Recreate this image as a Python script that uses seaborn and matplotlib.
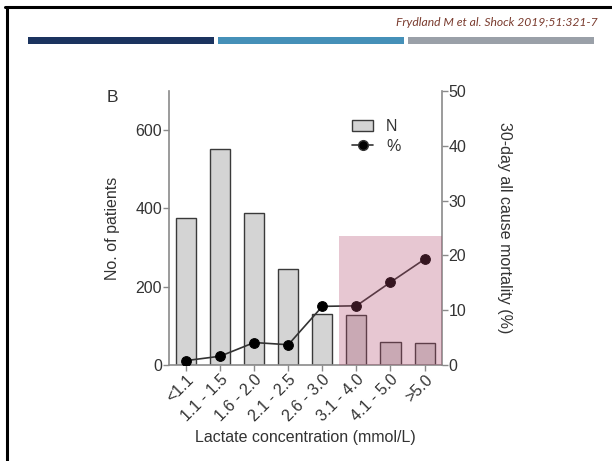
import matplotlib
matplotlib.use("Agg")
import matplotlib.pyplot as plt
import numpy as np
import pandas as pd
import seaborn as sns
from matplotlib.lines import Line2D
from matplotlib.patches import Patch, Rectangle

# data
lactate_groups = ["<1.1", "1.1 - 1.5", "1.6 - 2.0", "2.1 - 2.5",
                  "2.6 - 3.0", "3.1 - 4.0", "4.1 - 5.0", ">5.0"]
n_patients = [376, 553, 389, 246, 131, 129, 59, 57]
mortality_pct = [0.8, 1.6, 4.1, 3.7, 10.7, 10.8, 15.1, 19.3]
highlight_from = 4.5   # shaded region starts between 2.6-3.0 and 3.1-4.0
highlight_top = 23.5   # in % units

sns.set_theme(style="white")
plt.rcParams["font.family"] = ["Liberation Sans", "DejaVu Sans"]

text_col = "#333333"
axis_col = "#8a8a8a"

df = pd.DataFrame({"group": lactate_groups, "n": n_patients,
                   "pct": mortality_pct, "pos": np.arange(len(lactate_groups))})

fig = plt.figure(figsize=(6.12, 4.61), dpi=100)
fig.patch.set_facecolor("white")

# slide frame + header
fig.add_artist(Line2D([5 / 612, 1], [1 - 7 / 461, 1 - 7 / 461], color="black", lw=2.2))
fig.add_artist(Line2D([6.5 / 612, 6.5 / 612], [0, 1 - 7 / 461], color="black", lw=2.2))
for x0, x1, c in [(28, 214, "#1b335f"), (218, 404, "#4590b8"), (408, 594, "#9aa0a8")]:
    fig.add_artist(Rectangle((x0 / 612, 1 - 44 / 461), (x1 - x0) / 612, 7 / 461,
                             transform=fig.transFigure, color=c, lw=0))
fig.text(598 / 612, 1 - 22 / 461, "Frydland M et al. Shock 2019;51:321-7",
         ha="right", va="center", fontsize=8.7, style="italic",
         color="#7a3b2e", family=["Lato", "DejaVu Sans"])

ax = fig.add_axes([169 / 612, 1 - 365 / 461, (441.6 - 169) / 612, (365 - 91) / 461])
sns.barplot(data=df, x="group", y="n", ax=ax, color="#d4d4d4", saturation=1,
            width=0.59, edgecolor="#3a3a3a", linewidth=1.0)
ax.set_ylim(0, 700)
ax.set_xlim(-0.5, 7.5)
ax.set_yticks([0, 200, 400, 600])
ax.set_xlabel("Lactate concentration (mmol/L)", fontsize=11.5, color=text_col, labelpad=4)
ax.set_ylabel("No. of patients", fontsize=11.5, color=text_col, labelpad=11)
ax.tick_params(axis="both", labelsize=11.5, colors=text_col, length=4, width=1,
               direction="out", left=True, bottom=True, color=axis_col, pad=1)
plt.setp(ax.get_xticklabels(), rotation=45, ha="right", rotation_mode="anchor")
for s in ["top", "right"]:
    ax.spines[s].set_visible(False)
for s in ["left", "bottom"]:
    ax.spines[s].set_color(axis_col)
    ax.spines[s].set_linewidth(1.2)

ax2 = ax.twinx()
sns.lineplot(data=df, x="pos", y="pct", ax=ax2, color="#333333", lw=1.2,
             marker="o", markersize=7, markerfacecolor="black",
             markeredgecolor="black")
ax2.set_ylim(0, 50)
ax2.set_xlim(-0.5, 7.5)
ax2.set_yticks([0, 10, 20, 30, 40, 50])
ax2.set_ylabel("30-day all cause mortality (%)", fontsize=11.5, color=text_col,
               rotation=270, labelpad=33)
ax2.set_xlabel("")
ax2.tick_params(axis="y", labelsize=11.5, colors=text_col, length=4, width=1,
                direction="out", right=True, color=axis_col, pad=1)
for s in ["top", "left", "bottom"]:
    ax2.spines[s].set_visible(False)
ax2.spines["right"].set_color(axis_col)
ax2.spines["right"].set_linewidth(1.2)

ax2.add_patch(Rectangle((highlight_from, 0), 7.5 - highlight_from, highlight_top,
                        facecolor="#b2486c", alpha=0.3, lw=0, zorder=5))

ax.text(-0.209, 0.978, "B", transform=ax.transAxes, fontsize=12.5, color=text_col,
        ha="center", va="center")

handles = [Patch(facecolor="#d4d4d4", edgecolor="#3a3a3a", lw=1.0, label="N"),
           Line2D([], [], color="#333333", lw=1.2, marker="o", markersize=7,
                  markerfacecolor="black", label="%")]
ax2.legend(handles=handles, loc="upper left", bbox_to_anchor=(0.62, 0.95),
           frameon=False, fontsize=11.5, handlelength=1.3, handletextpad=0.8,
           labelspacing=0.3, labelcolor=text_col)

fig.savefig("out.png", dpi=100)
